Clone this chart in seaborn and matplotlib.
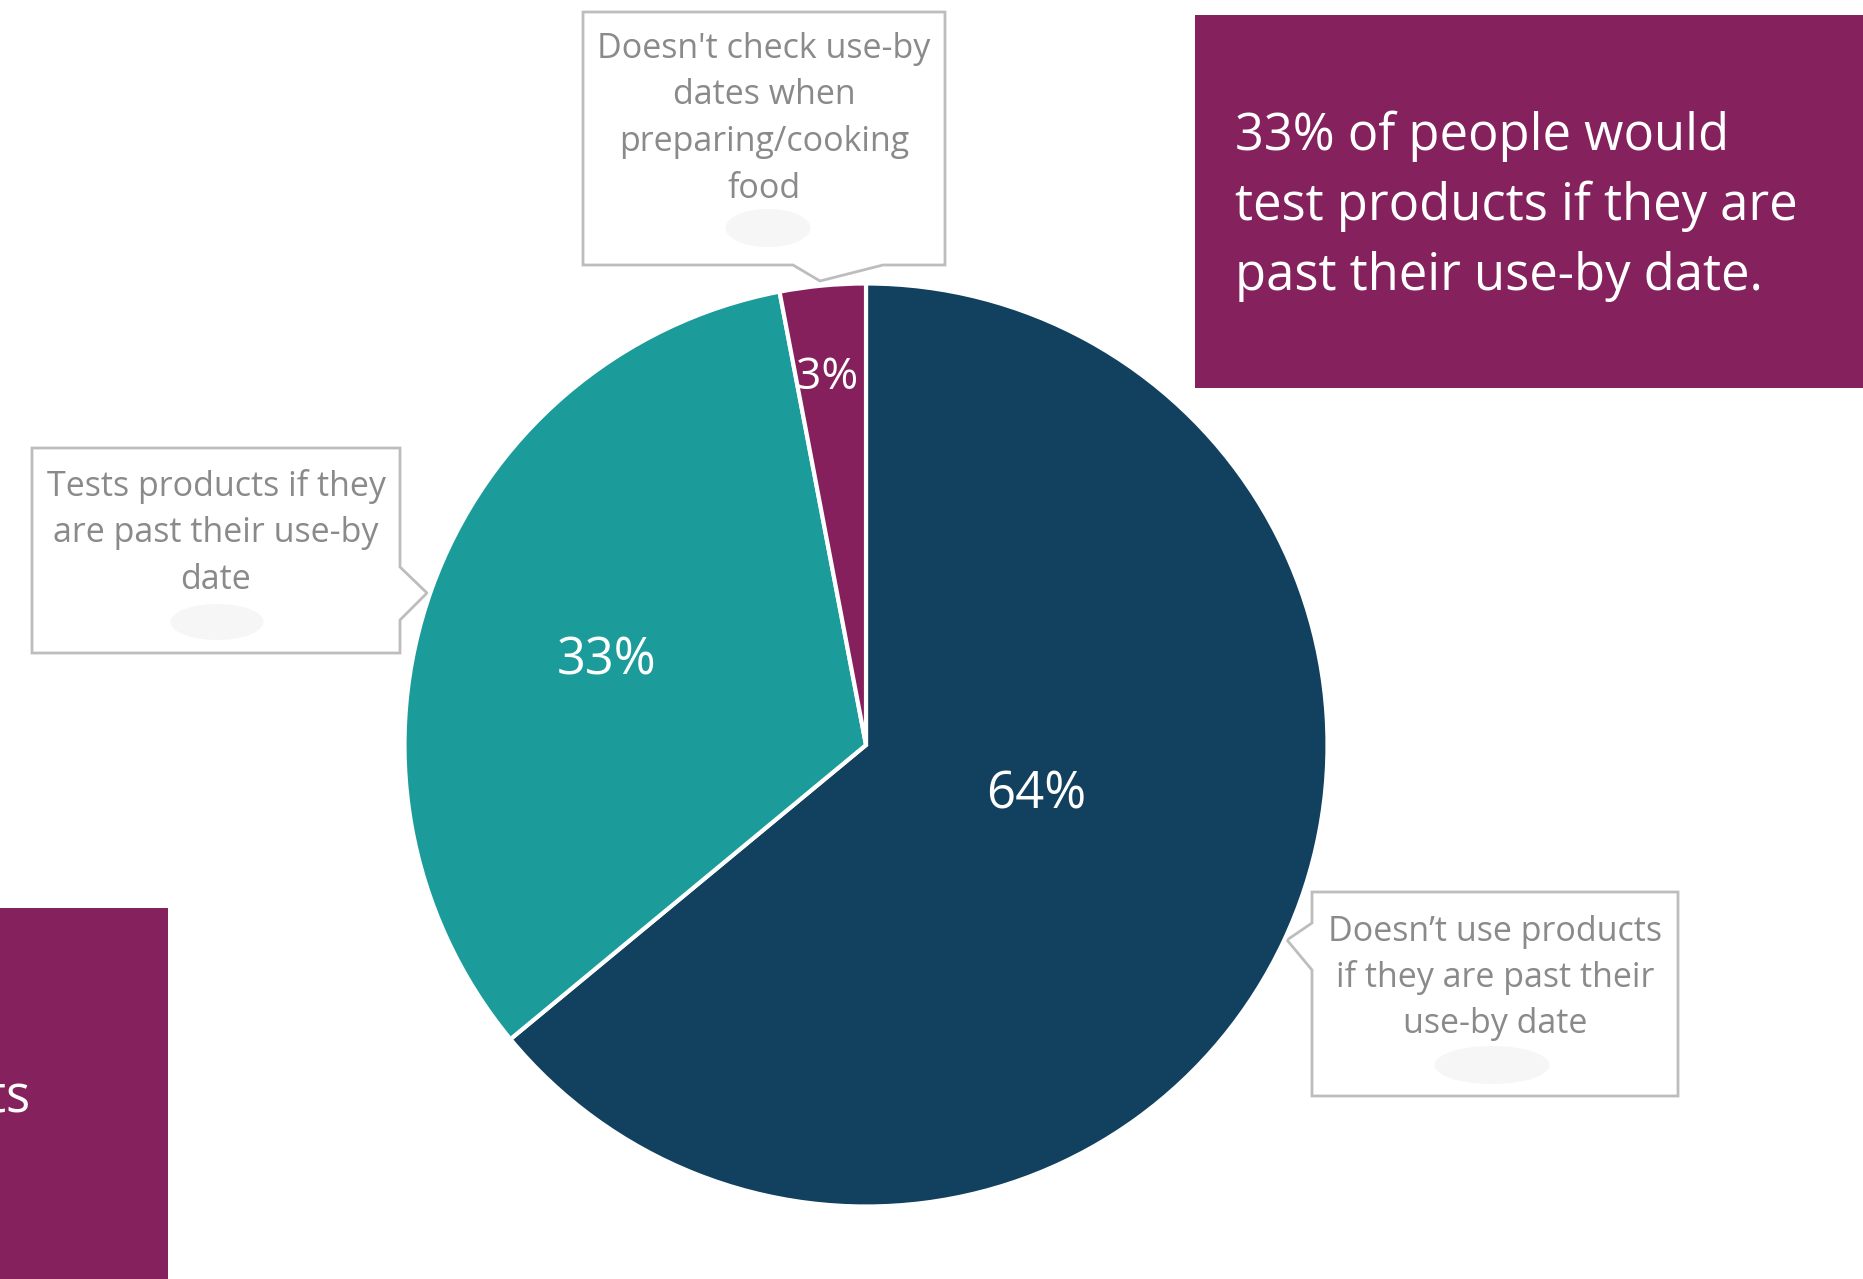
import matplotlib
matplotlib.use("Agg")
import matplotlib.pyplot as plt
from matplotlib.patches import Polygon, Rectangle, Ellipse
import numpy as np
import seaborn as sns

# --- data -------------------------------------------------------------
categories = [
    "Doesn\u2019t use products\nif they are past their\nuse-by date",
    "Tests products if they\nare past their use-by\ndate",
    "Doesn't check use-by\ndates when\npreparing/cooking\nfood",
]
shares = [64, 33, 3]
slice_colors = ["#12405f", "#1b9b9a", "#85205d"]
headline = ["33% of people would", "test products if they are", "past their use-by date."]
side_note = "products"

# --- style ------------------------------------------------------------
sns.set_theme(style="white")
plt.rcParams["font.family"] = ["Open Sans", "DejaVu Sans"]

W, H = 1863, 1279
fig = plt.figure(figsize=(W / 100, H / 100), dpi=100)
fig.patch.set_facecolor("white")

# full-figure layer in pixel units for boxes and callouts
bg = fig.add_axes([0, 0, 1, 1])
bg.set_xlim(0, W)
bg.set_ylim(H, 0)
bg.axis("off")

BOX = "#85225e"
GREY_EDGE = "#bdbdbd"
GREY_TEXT = "#8a8a8a"

# headline panel (top right)
bg.add_patch(Rectangle((1195, 15), W - 1195, 373, facecolor=BOX, edgecolor="none"))
for i, line in enumerate(headline):
    bg.text(1235, 150 + i * 70, line, color="white", fontsize=36.5,
            ha="left", va="baseline")

# second panel, mostly cut off at the left edge
bg.add_patch(Rectangle((0, 908), 168, H - 908, facecolor=BOX, edgecolor="none"))
bg.text(31, 1112, side_note, color="white", fontsize=36.5, ha="right", va="baseline")

# --- pie ---------------------------------------------------------------
cx, cy, r = 866, 745, 461.5
ax = fig.add_axes([(cx - r) / W, (H - cy - r) / H, 2 * r / W, 2 * r / H])
wedges, _ = ax.pie(
    shares, colors=slice_colors, startangle=90, counterclock=False, radius=1,
    wedgeprops=dict(edgecolor="white", linewidth=3),
)
ax.set_xlim(-1, 1)
ax.set_ylim(-1, 1)
ax.set_aspect("equal")
ax.axis("off")

# value labels: (radial distance, angle in degrees) inside each wedge
label_pos = [(0.384, -16.4), (0.59, 162.0), (0.80, 96.0)]
label_size = [36.5, 36.5, 32]
for v, (d, a), fs in zip(shares, label_pos, label_size):
    t = np.deg2rad(a)
    ax.text(d * np.cos(t), d * np.sin(t), f"{v}%", color="white",
            fontsize=fs, ha="center", va="center")

# --- callouts ------------------------------------------------------------
callouts = [
    # (outline polygon, text centre x, first baseline, line step, blob centre, blob size)
    ([(1312, 892), (1678, 892), (1678, 1096), (1312, 1096), (1312, 970),
      (1287, 940), (1312, 923)], 1495, 941, 46, (1492, 1065), (115, 38)),
    ([(32, 448), (400, 448), (400, 567), (427, 593), (400, 620), (400, 653),
      (32, 653)], 216, 496, 46.5, (217, 622), (93, 36)),
    ([(583, 12), (945, 12), (945, 265), (883, 265), (820, 281), (793, 265),
      (583, 265)], 764, 58, 46.5, (768, 228), (85, 38)),
]
for label, (pts, tx, ty, step, bc, bs) in zip(categories, callouts):
    bg.add_patch(Polygon(pts, closed=True, facecolor="white",
                         edgecolor=GREY_EDGE, linewidth=2, zorder=3))
    bg.add_patch(Ellipse(bc, bs[0], bs[1], facecolor="#f6f6f6",
                         edgecolor="none", zorder=4))
    for i, line in enumerate(label.split("\n")):
        bg.text(tx, ty + i * step, line, color=GREY_TEXT, fontsize=24.5,
                ha="center", va="baseline", zorder=5)

fig.savefig("out.png", dpi=100, facecolor="white")
